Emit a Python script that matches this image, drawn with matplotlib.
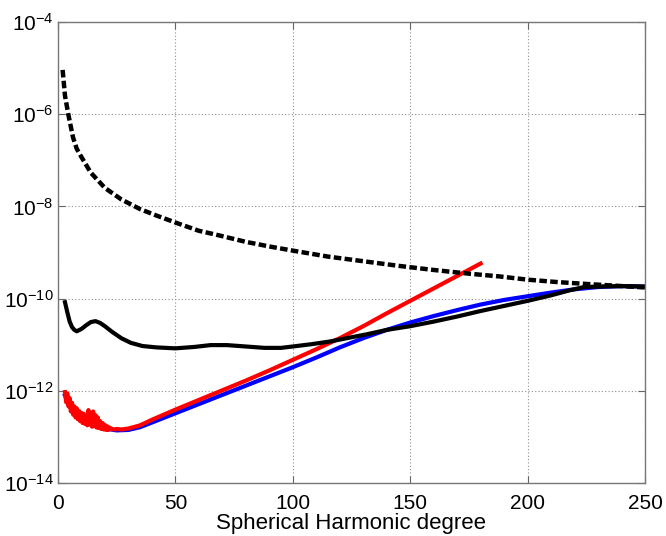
import numpy as np
import matplotlib
matplotlib.use("Agg")
import matplotlib.pyplot as plt
from matplotlib.ticker import FixedLocator, FuncFormatter, NullLocator

# dashed black curve (degree, log10 value)
dash_deg = [2, 3, 4.4, 6.4, 8, 10, 14, 20, 27, 35, 42, 50, 60, 67, 80, 90, 100,
            115, 130, 145, 160, 175, 188, 200, 212, 224, 237, 250]
dash_exp = [-5.04, -5.6, -6.0, -6.5, -6.75, -6.93, -7.27, -7.60, -7.85, -8.06,
            -8.20, -8.35, -8.53, -8.61, -8.77, -8.87, -8.96, -9.09, -9.19, -9.29,
            -9.38, -9.46, -9.52, -9.59, -9.64, -9.68, -9.72, -9.76]

# solid black curve
black_deg = [3, 4, 5, 6, 7, 8, 10, 12, 14, 16, 18, 20, 23, 27, 31, 36, 42, 50, 58,
             65, 72, 80, 88, 95, 100, 108, 116, 124, 132, 140, 150, 160, 170, 180,
             190, 200, 210, 218, 224, 230, 240, 250]
black_exp = [-10.08, -10.30, -10.50, -10.62, -10.68, -10.71, -10.66, -10.58, -10.51,
             -10.49, -10.53, -10.60, -10.72, -10.86, -10.96, -11.03, -11.06, -11.08,
             -11.05, -11.01, -11.01, -11.04, -11.07, -11.07, -11.04, -10.99, -10.93,
             -10.85, -10.77, -10.68, -10.60, -10.50, -10.39, -10.27, -10.16, -10.05,
             -9.93, -9.82, -9.75, -9.74, -9.73, -9.74]

# blue curve
blue_deg = [3, 5, 8, 12, 16, 20, 25, 30, 35, 40, 45, 50, 60, 70, 80, 90, 100, 110,
            120, 130, 140, 150, 160, 170, 180, 190, 200, 210, 220, 230, 240, 250]
blue_exp = [-12.10, -12.30, -12.50, -12.65, -12.75, -12.82, -12.86, -12.85, -12.79,
            -12.69, -12.59, -12.49, -12.29, -12.09, -11.89, -11.69, -11.49, -11.28,
            -11.06, -10.86, -10.68, -10.52, -10.38, -10.25, -10.13, -10.03, -9.95,
            -9.87, -9.80, -9.75, -9.73, -9.74]

# red curve (noisy at low degree)
red_deg = [3, 3.5, 4, 4.5, 5, 5.5, 6, 6.5, 7, 7.5, 8, 8.5, 9, 9.5, 10, 10.5, 11,
           11.5, 12, 12.5, 13, 13.5, 14, 14.5, 15, 15.5, 16, 16.5, 17, 17.5, 18,
           18.5, 19, 19.5, 20, 20.5, 21, 21.5, 22, 23, 24, 25, 27, 30, 35, 40, 45,
           50, 60, 70, 80, 90, 100, 110, 120, 130, 140, 150, 160, 170, 180]
red_exp = [-12.03, -12.25, -12.06, -12.34, -12.16, -12.45, -12.26, -12.52, -12.34,
           -12.58, -12.38, -12.62, -12.44, -12.66, -12.48, -12.70, -12.50, -12.72,
           -12.55, -12.75, -12.42, -12.73, -12.48, -12.78, -12.45, -12.77, -12.53,
           -12.80, -12.58, -12.81, -12.66, -12.83, -12.70, -12.84, -12.74, -12.85,
           -12.77, -12.85, -12.80, -12.83, -12.84, -12.83, -12.84, -12.82, -12.75,
           -12.63, -12.52, -12.41, -12.20, -11.99, -11.78, -11.56, -11.33, -11.10,
           -10.86, -10.60, -10.32, -10.05, -9.78, -9.51, -9.24]

ytick_exps = [-14, -12, -10, -8, -6, -4]
xticks = [0, 50, 100, 150, 200, 250]

plt.rcParams['font.family'] = ['Liberation Sans', 'DejaVu Sans']
plt.rcParams['mathtext.fontset'] = 'custom'
plt.rcParams['mathtext.rm'] = 'Liberation Sans'

fig = plt.figure(figsize=(6.66, 5.36), dpi=100)
ax = fig.add_axes([0.087, 0.099, 0.8815, 0.860])

ax.plot(blue_deg, 10.0 ** np.array(blue_exp), color='#0000ff', lw=3)
ax.plot(red_deg, 10.0 ** np.array(red_exp), color='#ff0000', lw=3)
ax.plot(black_deg, 10.0 ** np.array(black_exp), color='black', lw=3)
ax.plot(dash_deg, 10.0 ** np.array(dash_exp), color='black', lw=3.2,
        linestyle=(0, (1.7, 0.75)))

ax.set_yscale('log')
ax.set_xlim(0, 250)
ax.set_ylim(1e-14, 1e-4)
ax.yaxis.set_major_locator(FixedLocator([10.0 ** e for e in ytick_exps]))
ax.yaxis.set_minor_locator(NullLocator())
ax.yaxis.set_major_formatter(FuncFormatter(
    lambda v, p: r'$\mathregular{10^{%d}}$' % round(np.log10(v))))
ax.set_xticks(xticks)

ax.grid(True, color='#909090', linestyle=(0, (1, 2)), lw=0.8)
ax.tick_params(direction='in', length=5, labelsize=15, color='#666666',
               top=True, right=True)
ax.tick_params(axis='x', pad=8)
ax.tick_params(axis='y', pad=3)
for s in ax.spines.values():
    s.set_color('#777777')
    s.set_linewidth(1)

ax.set_xlabel('Spherical Harmonic degree', fontsize=16, labelpad=0)

fig.savefig('out.png', dpi=100)
